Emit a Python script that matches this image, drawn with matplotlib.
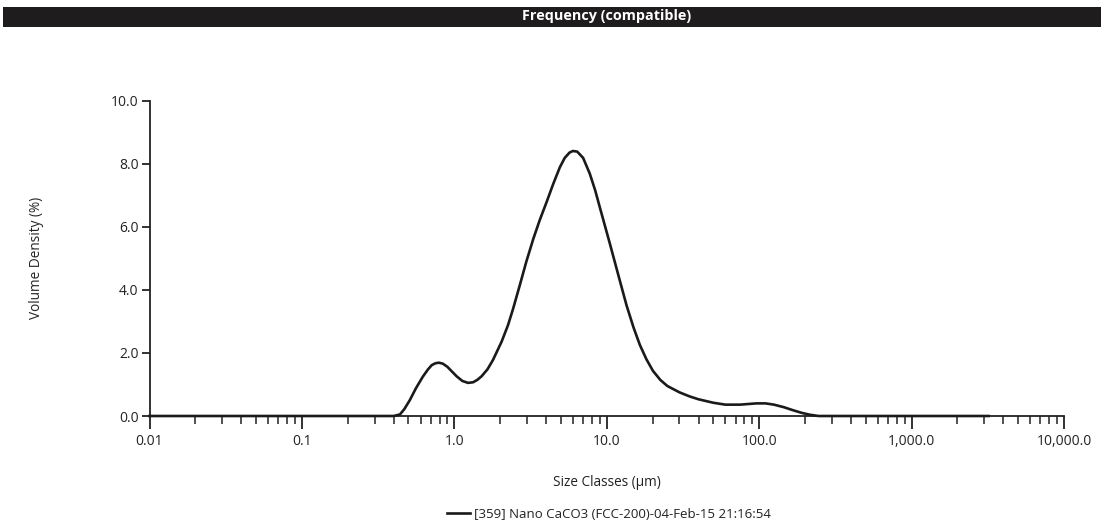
import matplotlib
matplotlib.use("Agg")
import matplotlib.pyplot as plt
from matplotlib.patches import Rectangle
from matplotlib.ticker import FixedLocator, LogLocator, NullFormatter

plt.rcParams['font.family'] = ['Open Sans', 'DejaVu Sans']

# Data (size in µm, volume density in %)
size_um = [0.01, 0.05, 0.2, 0.40, 0.44, 0.47, 0.51, 0.56, 0.62, 0.67, 0.71, 0.75, 0.79,
           0.84, 0.90, 0.96, 1.04, 1.13, 1.23, 1.33, 1.42, 1.51, 1.65, 1.79, 2.04,
           2.25, 2.43, 2.69, 2.97, 3.3, 3.64, 4.03, 4.45, 4.92, 5.3, 5.7, 6.0,
           6.4, 7.0, 7.74, 8.4, 9.0, 10.5, 12.2, 13.5, 15.0, 16.5, 18.2, 20.1,
           22.5, 25.0, 30.0, 35.0, 40.0, 50.0, 60.0, 75.0, 96.0, 110.0, 125.0,
           145.0, 165.0, 190.0, 215.0, 245.0, 1000.0, 3200.0]
density = [0.0, 0.0, 0.0, 0.0, 0.05, 0.22, 0.50, 0.88, 1.24, 1.47, 1.61, 1.67, 1.69,
           1.66, 1.56, 1.42, 1.25, 1.11, 1.05, 1.07, 1.15, 1.26, 1.48, 1.77, 2.35,
           2.88, 3.40, 4.15, 4.90, 5.62, 6.22, 6.78, 7.35, 7.88, 8.18, 8.35, 8.40,
           8.38, 8.18, 7.68, 7.15, 6.62, 5.45, 4.28, 3.50, 2.80, 2.25, 1.80, 1.43,
           1.14, 0.95, 0.75, 0.62, 0.53, 0.42, 0.36, 0.36, 0.40, 0.40, 0.36,
           0.28, 0.19, 0.10, 0.04, 0.0, 0.0, 0.0]

x_ticks = [0.01, 0.1, 1.0, 10.0, 100.0, 1000.0, 10000.0]
x_ticklabels = ["0.01", "0.1", "1.0", "10.0", "100.0", "1,000.0", "10,000.0"]
y_ticks = [0, 2, 4, 6, 8, 10]
y_ticklabels = ["0.0", "2.0", "4.0", "6.0", "8.0", "10.0"]
series_label = "[359] Nano CaCO3 (FCC-200)-04-Feb-15 21:16:54"

W, H = 1109, 524
fig = plt.figure(figsize=(W / 100, H / 100), dpi=100)
fig.patch.set_facecolor("white")

# Title bar
fig.patches.append(Rectangle((3 / W, 1 - 27 / H), 1098 / W, 20 / H,
                             transform=fig.transFigure, facecolor="#1e1c1d",
                             edgecolor="none"))
fig.text(607 / W, 1 - 16 / H, "Frequency (compatible)", color="white",
         fontsize=10.4, fontweight="bold", ha="center", va="center")

ax = fig.add_axes([149.5 / W, 1 - 416 / H, (1064 - 149.5) / W, (416 - 100.5) / H])
ax.plot(size_um, density, color="#1a1a1a", lw=1.9, clip_on=False, zorder=3,
        solid_joinstyle="round")

ax.set_xscale("log")
ax.set_xlim(0.01, 10000)
ax.set_ylim(0, 10)

ax.xaxis.set_major_locator(FixedLocator(x_ticks))
ax.set_xticklabels(x_ticklabels)
ax.xaxis.set_minor_locator(LogLocator(base=10, subs=range(2, 10), numticks=20))
ax.xaxis.set_minor_formatter(NullFormatter())
ax.set_yticks(y_ticks)
ax.set_yticklabels(y_ticklabels)

for s in ["top", "right"]:
    ax.spines[s].set_visible(False)
for s in ["left", "bottom"]:
    ax.spines[s].set_linewidth(1.3)
    ax.spines[s].set_color("#222222")

ax.tick_params(axis="x", which="major", direction="out", length=9, width=1.3,
               colors="#222222", labelsize=10, pad=4, labelcolor="#222222")
ax.tick_params(axis="x", which="minor", direction="out", length=6, width=1.1,
               colors="#222222")
ax.tick_params(axis="y", which="major", direction="out", length=6, width=1.3,
               colors="#222222", labelsize=10, pad=2, labelcolor="#222222")

ax.set_xlabel("Size Classes (µm)", fontsize=9.8, color="#222222", labelpad=19)
ax.set_ylabel("Volume Density (%)", fontsize=9.8, color="#222222", labelpad=48)

# Legend
leg = fig.legend([ax.lines[0]], [series_label], loc="center",
                 bbox_to_anchor=(609 / W, 1 - 514 / H), frameon=False,
                 fontsize=9.5, handlelength=1.8, handletextpad=0.3)
for t in leg.get_texts():
    t.set_color("#222222")

fig.savefig("out.png", dpi=100, facecolor="white")
